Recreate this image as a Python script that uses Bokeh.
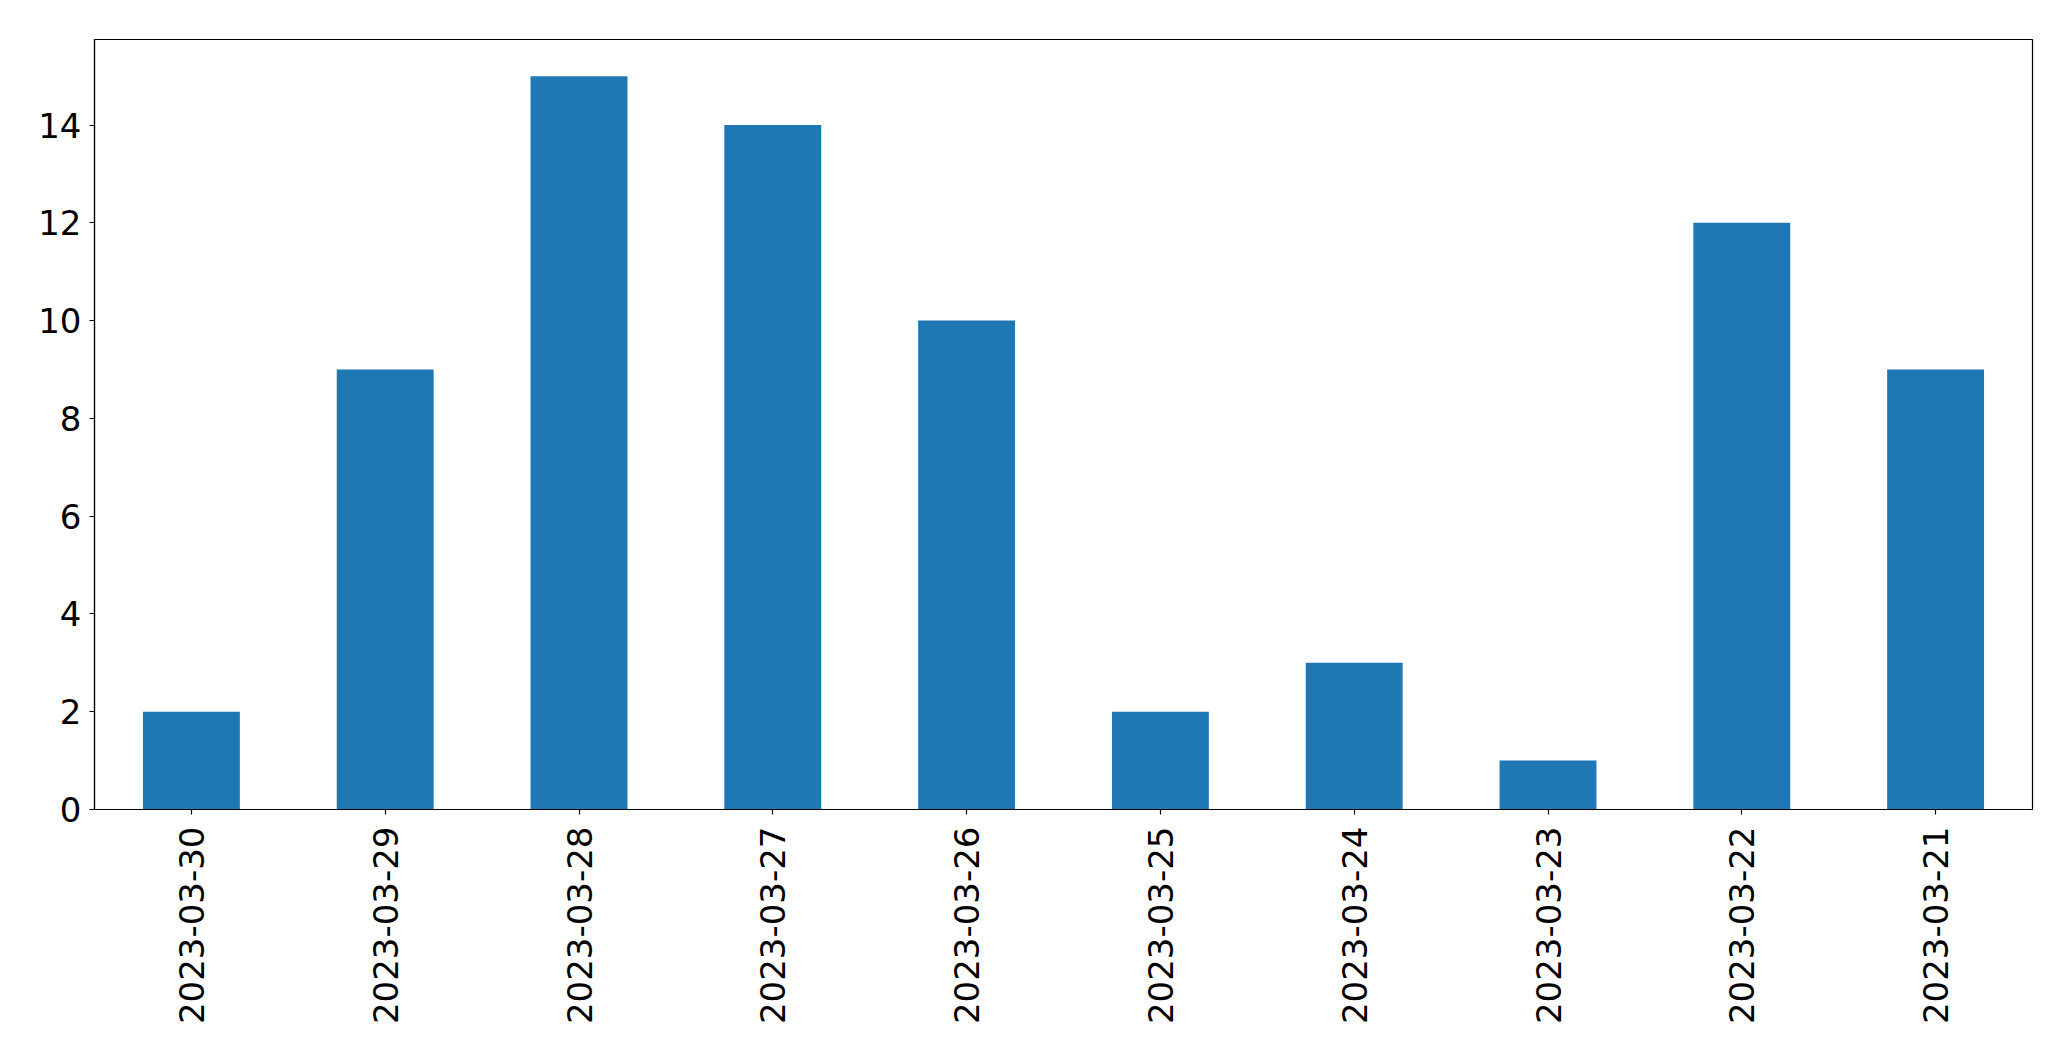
import math
from bokeh.plotting import figure
from bokeh.models import Range1d, FactorRange, FixedTicker
from bokeh.embed import file_html
from bokeh.resources import INLINE

dates = ["2023-03-30", "2023-03-29", "2023-03-28", "2023-03-27", "2023-03-26",
         "2023-03-25", "2023-03-24", "2023-03-23", "2023-03-22", "2023-03-21"]
counts = [2, 9, 15, 14, 10, 2, 3, 1, 12, 9]
y_ticks = [0, 2, 4, 6, 8, 10, 12, 14]

p = figure(width=2071, height=1061, output_backend="svg", toolbar_location=None,
           x_range=FactorRange(factors=dates, range_padding=0),
           y_range=Range1d(0, 15.75),
           min_border_left=94, min_border_right=39, min_border_top=39, min_border_bottom=252)

p.vbar(x=dates, top=counts, width=0.5, color="#1f77b4", line_color=None)

p.xgrid.visible = False
p.ygrid.visible = False
p.outline_line_color = "black"
p.outline_line_width = 1.2
p.background_fill_color = "white"
p.border_fill_color = "white"

for ax in (p.xaxis[0], p.yaxis[0]):
    ax.axis_line_color = "black"
    ax.axis_line_width = 1.2
    ax.major_tick_line_color = "black"
    ax.major_tick_line_width = 1.2
    ax.major_tick_in = 0
    ax.major_tick_out = 5
    ax.minor_tick_line_color = None
    ax.major_label_text_font = "DejaVu Sans"
    ax.major_label_text_font_size = "34px"
    ax.major_label_text_color = "black"

p.yaxis[0].ticker = FixedTicker(ticks=y_ticks)
p.yaxis[0].major_label_standoff = 8
p.xaxis[0].major_label_orientation = math.pi / 2
p.xaxis[0].major_label_standoff = 12

open("out.html", "w").write(file_html(p, INLINE))
